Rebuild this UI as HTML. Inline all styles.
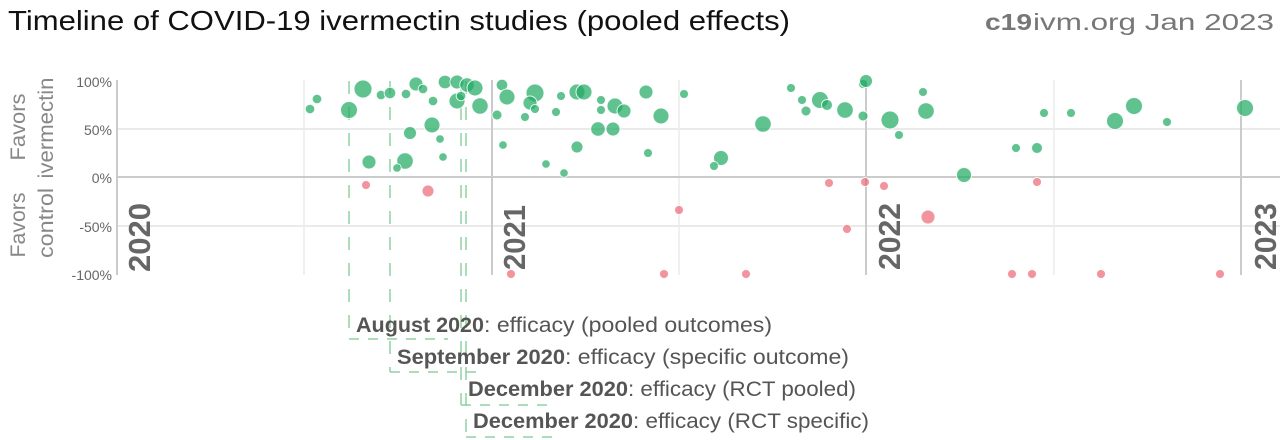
<!DOCTYPE html>
<html><head><meta charset="utf-8"><style>
html,body{margin:0;padding:0;background:#fff;}
svg{display:block;}
text{font-family:"Liberation Sans",Arial,sans-serif;}
</style></head><body>
<svg width="1280" height="440" viewBox="0 0 1280 440" xmlns="http://www.w3.org/2000/svg">
<rect width="1280" height="440" fill="#fff"/>
<!-- title -->
<text x="8" y="30" font-size="28" fill="#111" textLength="782" lengthAdjust="spacingAndGlyphs">Timeline of COVID-19 ivermectin studies (pooled effects)</text>
<text x="985" y="30" font-size="23" fill="#777" font-weight="bold" textLength="47" lengthAdjust="spacingAndGlyphs">c19</text>
<text x="1033" y="30" font-size="23" fill="#777" textLength="241" lengthAdjust="spacingAndGlyphs">ivm.org Jan 2023</text>

<!-- gridlines -->
<g stroke-width="1.5">
<line x1="117" y1="129" x2="1280" y2="129" stroke="#e4e4e4"/>
<line x1="117" y1="226" x2="1280" y2="226" stroke="#e4e4e4"/>
<line x1="304" y1="80" x2="304" y2="275" stroke="#ebebeb"/>
<line x1="679" y1="80" x2="679" y2="275" stroke="#ebebeb"/>
<line x1="1054" y1="80" x2="1054" y2="275" stroke="#ebebeb"/>
</g>
<g stroke-width="2" stroke="#cbcbcb">
<line x1="117" y1="177" x2="1280" y2="177"/>
<line x1="117" y1="80" x2="117" y2="275"/>
<line x1="492" y1="80" x2="492" y2="275"/>
<line x1="866" y1="80" x2="866" y2="275"/>
<line x1="1241" y1="80" x2="1241" y2="275"/>
</g>

<!-- y tick labels -->
<g font-size="14" fill="#666" text-anchor="end">
<text x="112" y="87">100%</text>
<text x="112" y="135">50%</text>
<text x="112" y="183">0%</text>
<text x="112" y="232">-50%</text>
<text x="112" y="280">-100%</text>
</g>

<!-- axis titles -->
<g font-size="21" fill="#888" text-anchor="middle">
<text transform="translate(25,127) rotate(-90)" textLength="67" lengthAdjust="spacingAndGlyphs">Favors</text>
<text transform="translate(53,128) rotate(-90)" textLength="101" lengthAdjust="spacingAndGlyphs">ivermectin</text>
<text transform="translate(25,225) rotate(-90)" textLength="65" lengthAdjust="spacingAndGlyphs">Favors</text>
<text transform="translate(53,223) rotate(-90)" textLength="70" lengthAdjust="spacingAndGlyphs">control</text>
</g>

<!-- year labels -->
<g font-size="31" font-weight="bold" fill="#666">
<text transform="translate(150,272) rotate(-90)" textLength="69" lengthAdjust="spacingAndGlyphs">2020</text>
<text transform="translate(525,270) rotate(-90)" textLength="65" lengthAdjust="spacingAndGlyphs">2021</text>
<text transform="translate(900,270) rotate(-90)" textLength="67" lengthAdjust="spacingAndGlyphs">2022</text>
<text transform="translate(1276,270) rotate(-90)" textLength="67" lengthAdjust="spacingAndGlyphs">2023</text>
</g>

<!-- dashed annotation lines -->
<g fill="none" stroke="#8fd3a0" stroke-width="1.5">
<g stroke-dasharray="13 13">
<line x1="349" y1="81" x2="349" y2="339"/>
<line x1="390" y1="81" x2="390" y2="372"/>
<line x1="461" y1="81" x2="461" y2="405"/>
<line x1="466" y1="81" x2="466" y2="437"/>
</g>
<g stroke-dasharray="10 9">
<line x1="349" y1="339" x2="448" y2="339"/>
<line x1="390" y1="372" x2="477" y2="372"/>
<line x1="461" y1="405" x2="549" y2="405"/>
<line x1="466" y1="437" x2="555" y2="437"/>
</g>
</g>

<!-- green bubbles -->
<g fill="rgb(33,170,100)" fill-opacity="0.72" stroke="#fff" stroke-width="1" stroke-opacity="0.85">
<circle cx="310" cy="109" r="4.8"/>
<circle cx="317" cy="99" r="4.8"/>
<circle cx="349" cy="110" r="8.5"/>
<circle cx="363" cy="89" r="9"/>
<circle cx="381" cy="95" r="4.8"/>
<circle cx="390" cy="93" r="5.8"/>
<circle cx="406" cy="94" r="4.8"/>
<circle cx="416" cy="84" r="7"/>
<circle cx="423" cy="89" r="4.8"/>
<circle cx="433" cy="101" r="4.8"/>
<circle cx="445" cy="82" r="6.8"/>
<circle cx="457" cy="82" r="7"/>
<circle cx="467" cy="85" r="7.2"/>
<circle cx="475" cy="88" r="8"/>
<circle cx="457" cy="101" r="8"/>
<circle cx="461" cy="96" r="4.8"/>
<circle cx="480" cy="106" r="8.2"/>
<circle cx="497" cy="115" r="5"/>
<circle cx="410" cy="133" r="6.5"/>
<circle cx="432" cy="125" r="8"/>
<circle cx="440" cy="139" r="4.3"/>
<circle cx="443" cy="157" r="4.3"/>
<circle cx="369" cy="162" r="7"/>
<circle cx="405" cy="161" r="8.3"/>
<circle cx="397" cy="168" r="4.3"/>
<circle cx="502" cy="85" r="5.8"/>
<circle cx="507" cy="97" r="8"/>
<circle cx="503" cy="145" r="4.3"/>
<circle cx="525" cy="117" r="4.5"/>
<circle cx="535" cy="93" r="9"/>
<circle cx="530" cy="103" r="7"/>
<circle cx="535" cy="109" r="4.5"/>
<circle cx="556" cy="112" r="4.5"/>
<circle cx="561" cy="96" r="4.5"/>
<circle cx="577" cy="92" r="8"/>
<circle cx="584" cy="92" r="8"/>
<circle cx="577" cy="147" r="6"/>
<circle cx="546" cy="164" r="4.3"/>
<circle cx="564" cy="173" r="4.3"/>
<circle cx="598" cy="129" r="7.3"/>
<circle cx="613" cy="129" r="7"/>
<circle cx="601" cy="100" r="4.5"/>
<circle cx="601" cy="110" r="4.5"/>
<circle cx="615" cy="106" r="8"/>
<circle cx="624" cy="111" r="7"/>
<circle cx="646" cy="92" r="7"/>
<circle cx="661" cy="116" r="8"/>
<circle cx="648" cy="153" r="4.5"/>
<circle cx="684" cy="94" r="4.5"/>
<circle cx="721" cy="158" r="7.5"/>
<circle cx="714" cy="166" r="4.5"/>
<circle cx="763" cy="124" r="8.3"/>
<circle cx="791" cy="88" r="4.5"/>
<circle cx="802" cy="100" r="4.5"/>
<circle cx="806" cy="111" r="5"/>
<circle cx="820" cy="100" r="8.5"/>
<circle cx="827" cy="105" r="5.5"/>
<circle cx="845" cy="110" r="8.3"/>
<circle cx="863" cy="84" r="4.5"/>
<circle cx="866" cy="81" r="6.5"/>
<circle cx="863" cy="116" r="5"/>
<circle cx="890" cy="120" r="9"/>
<circle cx="899" cy="135" r="4.5"/>
<circle cx="923" cy="92" r="4.5"/>
<circle cx="926" cy="111" r="8.3"/>
<circle cx="964" cy="175" r="7.5"/>
<circle cx="1016" cy="148" r="4.5"/>
<circle cx="1037" cy="148" r="5.5"/>
<circle cx="1044" cy="113" r="4.5"/>
<circle cx="1071" cy="113" r="4.5"/>
<circle cx="1115" cy="121" r="8.5"/>
<circle cx="1134" cy="106" r="8.5"/>
<circle cx="1167" cy="122" r="4.5"/>
<circle cx="1245" cy="108" r="8.5"/>
</g>

<!-- red bubbles -->
<g fill="rgb(235,90,105)" fill-opacity="0.65" stroke="#fff" stroke-width="1" stroke-opacity="0.85">
<circle cx="366" cy="185" r="4.5"/>
<circle cx="428" cy="191" r="6"/>
<circle cx="679" cy="210" r="4.5"/>
<circle cx="511" cy="274" r="4.5"/>
<circle cx="664" cy="274" r="4.5"/>
<circle cx="746" cy="274" r="4.5"/>
<circle cx="829" cy="183" r="4.5"/>
<circle cx="865" cy="182" r="4.5"/>
<circle cx="884" cy="186" r="4.5"/>
<circle cx="847" cy="229" r="4.5"/>
<circle cx="928" cy="217" r="7"/>
<circle cx="1037" cy="182" r="4.5"/>
<circle cx="1012" cy="274" r="4.5"/>
<circle cx="1032" cy="274" r="4.5"/>
<circle cx="1101" cy="274" r="4.5"/>
<circle cx="1220" cy="274" r="4.5"/>
</g>

<!-- annotations -->
<g font-size="21" fill="#555">
<text x="356" y="332" font-weight="bold" textLength="128" lengthAdjust="spacingAndGlyphs">August 2020</text>
<text x="484" y="332" textLength="288" lengthAdjust="spacingAndGlyphs">: efficacy (pooled outcomes)</text>
<text x="397" y="364" font-weight="bold" textLength="168" lengthAdjust="spacingAndGlyphs">September 2020</text>
<text x="565" y="364" textLength="284" lengthAdjust="spacingAndGlyphs">: efficacy (specific outcome)</text>
<text x="468" y="396" font-weight="bold" textLength="160" lengthAdjust="spacingAndGlyphs">December 2020</text>
<text x="628" y="396" textLength="228" lengthAdjust="spacingAndGlyphs">: efficacy (RCT pooled)</text>
<text x="473" y="428" font-weight="bold" textLength="160" lengthAdjust="spacingAndGlyphs">December 2020</text>
<text x="633" y="428" textLength="236" lengthAdjust="spacingAndGlyphs">: efficacy (RCT specific)</text>
</g>
</svg>
</body></html>
